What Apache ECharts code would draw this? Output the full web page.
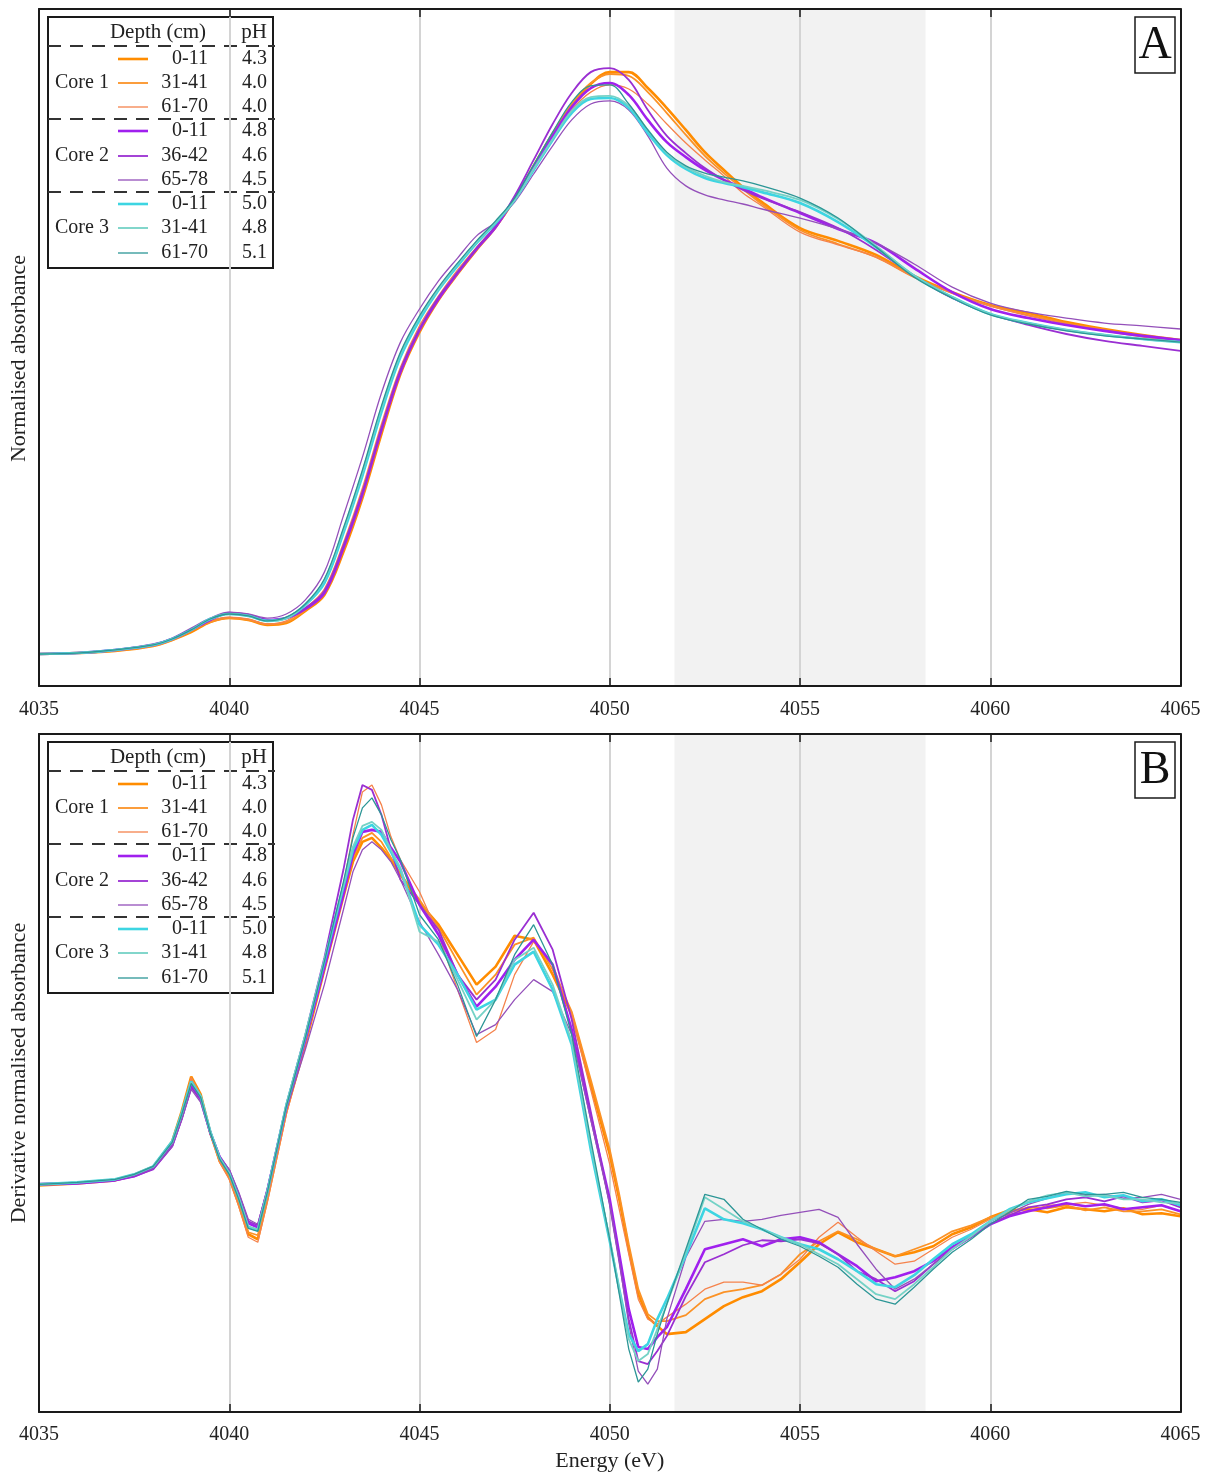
<!DOCTYPE html>
<html>
<head>
<meta charset="utf-8">
<script src="https://cdn.jsdelivr.net/npm/echarts/dist/echarts.min.js"></script>
<style>
html,body{margin:0;padding:0;background:#fff;}
#chart{width:1217px;height:1473px;}
</style>
</head>
<body>
<div id="chart"></div>
<script>
// ---------------- DATA ----------------
const energyA = [4035,4036,4037,4038,4038.5,4039,4039.5,4040,4040.5,4041,4041.5,4042,4042.5,4043,4043.5,4044,4044.5,4045,4045.5,4046,4046.5,4047,4047.5,4048,4048.5,4049,4049.5,4050,4050.5,4051,4051.5,4052,4052.5,4053,4053.5,4054,4055,4056,4057,4058,4059,4060,4061,4062,4063,4064,4065];

// Panel A: normalised absorbance
const absC1_0_11  = [0,0.003,0.010,0.026,0.045,0.070,0.102,0.115,0.109,0.093,0.099,0.138,0.189,0.326,0.499,0.704,0.896,1.030,1.133,1.216,1.293,1.366,1.456,1.562,1.664,1.754,1.824,1.862,1.862,1.811,1.747,1.677,1.606,1.549,1.494,1.446,1.363,1.322,1.277,1.210,1.158,1.117,1.091,1.062,1.040,1.021,1.005];
const absC1_31_41 = [0,0.003,0.010,0.026,0.045,0.074,0.102,0.115,0.109,0.096,0.102,0.141,0.195,0.339,0.512,0.717,0.902,1.037,1.136,1.219,1.296,1.366,1.456,1.562,1.667,1.760,1.827,1.856,1.850,1.798,1.731,1.661,1.594,1.539,1.488,1.440,1.357,1.312,1.270,1.206,1.155,1.114,1.085,1.059,1.037,1.018,1.002];
const absC1_61_70 = [0,0.003,0.010,0.026,0.045,0.074,0.106,0.118,0.112,0.096,0.106,0.147,0.208,0.355,0.531,0.736,0.918,1.050,1.146,1.229,1.302,1.370,1.456,1.555,1.654,1.741,1.798,1.821,1.808,1.760,1.696,1.635,1.581,1.530,1.475,1.434,1.350,1.309,1.270,1.206,1.155,1.114,1.082,1.056,1.034,1.014,0.998];
const absC2_0_11  = [0,0.003,0.013,0.029,0.048,0.077,0.109,0.131,0.125,0.109,0.115,0.144,0.195,0.339,0.512,0.717,0.902,1.037,1.136,1.219,1.296,1.366,1.459,1.558,1.658,1.750,1.811,1.827,1.789,1.709,1.638,1.590,1.549,1.517,1.491,1.462,1.411,1.360,1.315,1.235,1.158,1.104,1.075,1.053,1.034,1.018,1.005];
const absC2_36_42 = [0,0.003,0.013,0.029,0.048,0.077,0.109,0.131,0.125,0.109,0.115,0.147,0.202,0.346,0.518,0.723,0.909,1.040,1.142,1.222,1.299,1.370,1.466,1.581,1.696,1.795,1.862,1.875,1.837,1.741,1.658,1.603,1.555,1.517,1.485,1.459,1.414,1.363,1.293,1.210,1.139,1.088,1.053,1.024,1.002,0.986,0.970];
const absC2_65_78 = [0,0.003,0.013,0.032,0.051,0.083,0.115,0.134,0.128,0.115,0.128,0.173,0.262,0.442,0.630,0.835,0.998,1.104,1.194,1.267,1.338,1.382,1.446,1.536,1.626,1.709,1.760,1.770,1.741,1.658,1.555,1.498,1.469,1.453,1.440,1.424,1.395,1.360,1.315,1.248,1.174,1.123,1.094,1.075,1.059,1.050,1.040];
const absC3_0_11  = [0,0.003,0.013,0.029,0.048,0.077,0.112,0.128,0.122,0.106,0.115,0.157,0.227,0.387,0.570,0.774,0.950,1.069,1.165,1.242,1.315,1.379,1.453,1.549,1.645,1.731,1.776,1.779,1.747,1.667,1.597,1.552,1.523,1.507,1.494,1.478,1.443,1.382,1.302,1.210,1.142,1.088,1.059,1.037,1.021,1.008,0.998];
const absC3_31_41 = [0,0.003,0.013,0.029,0.048,0.077,0.112,0.128,0.122,0.106,0.115,0.160,0.237,0.397,0.582,0.787,0.960,1.078,1.168,1.248,1.318,1.382,1.453,1.552,1.648,1.738,1.782,1.786,1.754,1.677,1.603,1.558,1.530,1.510,1.498,1.485,1.453,1.392,1.306,1.210,1.142,1.088,1.059,1.037,1.021,1.008,0.998];
const absC3_61_70 = [0,0.003,0.013,0.029,0.048,0.077,0.112,0.128,0.122,0.106,0.118,0.160,0.240,0.403,0.589,0.794,0.966,1.082,1.174,1.251,1.322,1.386,1.459,1.565,1.670,1.766,1.818,1.821,1.760,1.677,1.606,1.562,1.539,1.526,1.514,1.498,1.459,1.395,1.302,1.206,1.139,1.085,1.056,1.034,1.018,1.008,0.998];

const energyB = [4035,4036,4037,4037.5,4038,4038.5,4038.75,4039,4039.25,4039.5,4039.75,4040,4040.25,4040.5,4040.75,4041,4041.5,4042,4042.5,4043,4043.25,4043.5,4043.75,4044,4044.25,4044.5,4045,4045.5,4046,4046.5,4047,4047.5,4048,4048.5,4049,4049.5,4050,4050.25,4050.5,4050.75,4051,4051.25,4051.5,4052,4052.5,4053,4053.5,4054,4054.5,4055,4055.5,4056,4056.5,4057,4057.5,4058,4058.5,4059,4059.5,4060,4060.5,4061,4061.5,4062,4062.5,4063,4063.5,4064,4064.5,4065];

// Panel B: derivative normalised absorbance
const derC1_0_11  = [-0.002,0,0.003,0.008,0.016,0.042,0.072,0.107,0.089,0.051,0.022,0.006,-0.021,-0.051,-0.056,-0.016,0.072,0.139,0.214,0.287,0.322,0.342,0.346,0.336,0.324,0.309,0.281,0.259,0.229,0.199,0.217,0.248,0.244,0.209,0.169,0.099,0.029,-0.016,-0.066,-0.111,-0.134,-0.143,-0.151,-0.149,-0.136,-0.123,-0.114,-0.108,-0.096,-0.079,-0.061,-0.049,-0.059,-0.066,-0.073,-0.069,-0.063,-0.051,-0.044,-0.034,-0.027,-0.026,-0.029,-0.024,-0.026,-0.028,-0.025,-0.031,-0.030,-0.033];
const derC1_31_41 = [-0.001,0.001,0.004,0.009,0.017,0.041,0.071,0.105,0.088,0.050,0.022,0.007,-0.019,-0.049,-0.052,-0.014,0.074,0.141,0.216,0.290,0.326,0.346,0.351,0.342,0.326,0.310,0.284,0.256,0.222,0.189,0.209,0.239,0.246,0.214,0.172,0.104,0.034,-0.011,-0.061,-0.106,-0.131,-0.138,-0.138,-0.132,-0.116,-0.109,-0.106,-0.102,-0.091,-0.071,-0.058,-0.048,-0.056,-0.066,-0.073,-0.066,-0.059,-0.048,-0.042,-0.034,-0.029,-0.024,-0.025,-0.022,-0.027,-0.024,-0.028,-0.028,-0.026,-0.031];
const derC1_61_70 = [-0.001,0.001,0.004,0.009,0.017,0.042,0.071,0.106,0.088,0.049,0.021,0.004,-0.023,-0.054,-0.059,-0.019,0.069,0.139,0.219,0.299,0.349,0.392,0.399,0.379,0.347,0.324,0.292,0.249,0.194,0.141,0.154,0.209,0.242,0.219,0.169,0.094,0.019,-0.026,-0.071,-0.116,-0.136,-0.141,-0.134,-0.121,-0.106,-0.099,-0.099,-0.102,-0.091,-0.076,-0.054,-0.039,-0.054,-0.068,-0.081,-0.078,-0.066,-0.054,-0.046,-0.036,-0.031,-0.028,-0.022,-0.021,-0.019,-0.022,-0.025,-0.026,-0.022,-0.028];
const derC2_0_11  = [-0.001,0,0.003,0.007,0.015,0.038,0.066,0.098,0.084,0.051,0.026,0.012,-0.012,-0.040,-0.044,-0.008,0.076,0.144,0.216,0.289,0.329,0.352,0.354,0.352,0.336,0.322,0.279,0.249,0.209,0.177,0.197,0.224,0.244,0.219,0.154,0.067,-0.016,-0.071,-0.126,-0.164,-0.166,-0.154,-0.144,-0.106,-0.066,-0.061,-0.056,-0.063,-0.056,-0.054,-0.059,-0.071,-0.083,-0.098,-0.094,-0.088,-0.078,-0.064,-0.053,-0.041,-0.033,-0.028,-0.024,-0.020,-0.023,-0.021,-0.026,-0.024,-0.022,-0.028];
const derC2_36_42 = [-0.001,0,0.003,0.007,0.014,0.037,0.064,0.096,0.084,0.052,0.027,0.013,-0.011,-0.038,-0.042,-0.006,0.079,0.149,0.226,0.314,0.364,0.399,0.394,0.369,0.334,0.304,0.279,0.254,0.209,0.184,0.204,0.244,0.271,0.234,0.164,0.072,-0.021,-0.078,-0.136,-0.178,-0.181,-0.168,-0.153,-0.113,-0.079,-0.071,-0.062,-0.057,-0.058,-0.056,-0.060,-0.071,-0.088,-0.096,-0.108,-0.098,-0.081,-0.066,-0.054,-0.041,-0.032,-0.024,-0.021,-0.016,-0.014,-0.018,-0.013,-0.019,-0.017,-0.024];
const derC2_65_78 = [0,0.001,0.004,0.008,0.015,0.037,0.064,0.094,0.081,0.049,0.026,0.014,-0.009,-0.036,-0.041,-0.006,0.074,0.134,0.199,0.274,0.312,0.334,0.342,0.334,0.322,0.304,0.262,0.229,0.194,0.149,0.159,0.184,0.204,0.192,0.149,0.064,-0.021,-0.078,-0.141,-0.188,-0.201,-0.186,-0.136,-0.074,-0.038,-0.036,-0.038,-0.036,-0.032,-0.029,-0.026,-0.034,-0.061,-0.086,-0.106,-0.096,-0.081,-0.066,-0.052,-0.038,-0.030,-0.021,-0.015,-0.009,-0.012,-0.011,-0.015,-0.014,-0.011,-0.016];
const derC3_0_11  = [-0.001,0.001,0.004,0.009,0.017,0.042,0.070,0.102,0.087,0.052,0.025,0.010,-0.015,-0.044,-0.047,-0.009,0.078,0.147,0.222,0.297,0.334,0.354,0.359,0.349,0.332,0.314,0.259,0.239,0.209,0.174,0.184,0.219,0.232,0.194,0.139,0.034,-0.058,-0.106,-0.151,-0.168,-0.161,-0.136,-0.116,-0.072,-0.025,-0.036,-0.040,-0.046,-0.054,-0.061,-0.066,-0.076,-0.088,-0.101,-0.104,-0.092,-0.076,-0.061,-0.051,-0.038,-0.026,-0.019,-0.015,-0.011,-0.009,-0.014,-0.012,-0.018,-0.016,-0.022];
const derC3_31_41 = [-0.001,0.001,0.004,0.009,0.017,0.041,0.069,0.101,0.087,0.052,0.025,0.010,-0.015,-0.043,-0.046,-0.008,0.079,0.149,0.224,0.299,0.337,0.358,0.362,0.354,0.334,0.316,0.252,0.242,0.204,0.164,0.184,0.224,0.236,0.199,0.142,0.039,-0.056,-0.106,-0.156,-0.178,-0.171,-0.146,-0.121,-0.069,-0.014,-0.026,-0.038,-0.046,-0.054,-0.061,-0.071,-0.081,-0.096,-0.111,-0.116,-0.101,-0.084,-0.066,-0.053,-0.038,-0.027,-0.018,-0.012,-0.009,-0.013,-0.012,-0.016,-0.016,-0.019,-0.020];
const derC3_61_70 = [-0.001,0.001,0.004,0.009,0.017,0.041,0.069,0.100,0.086,0.051,0.024,0.009,-0.016,-0.045,-0.048,-0.009,0.077,0.146,0.222,0.302,0.346,0.376,0.386,0.369,0.344,0.324,0.269,0.244,0.199,0.147,0.184,0.229,0.259,0.219,0.149,0.044,-0.056,-0.111,-0.166,-0.199,-0.186,-0.151,-0.121,-0.066,-0.011,-0.016,-0.036,-0.046,-0.056,-0.063,-0.073,-0.084,-0.101,-0.116,-0.121,-0.104,-0.086,-0.069,-0.056,-0.041,-0.029,-0.016,-0.013,-0.008,-0.011,-0.011,-0.009,-0.014,-0.016,-0.019];

const coreLabels  = ['Core 1','Core 2','Core 3'];
const depthLabels = ['0-11','31-41','61-70','0-11','36-42','65-78','0-11','31-41','61-70'];
const pHLabels    = ['4.3','4.0','4.0','4.8','4.6','4.5','5.0','4.8','5.1'];
const bandStart = 4051.7, bandEnd = 4058.3;

// ---------------- STYLE ----------------
const FONT = '"Liberation Serif","Times New Roman",serif';
const COLORS = ['#ff8c00','#fb9226','#f5834c','#a020ee','#9a2fd2','#9450ba','#3dd5e2','#74d2c6','#2c9696'];
const WIDTHS = [2.6,1.8,1.3,2.6,1.8,1.3,2.6,1.8,1.3];
const absSets = [absC1_0_11,absC1_31_41,absC1_61_70,absC2_0_11,absC2_36_42,absC2_65_78,absC3_0_11,absC3_31_41,absC3_61_70];
const derSets = [derC1_0_11,derC1_31_41,derC1_61_70,derC2_0_11,derC2_36_42,derC2_65_78,derC3_0_11,derC3_31_41,derC3_61_70];
const seriesNames = depthLabels.map((d,i)=>coreLabels[Math.floor(i/3)]+' '+d);

const chart = echarts.init(document.getElementById('chart'), null, {renderer:'canvas'});

const yRangeA = {min:-0.1024, max:2.064};
const yRangeB = {min:-0.229, max:0.450};

function xAxes(grid, withName, margin){
  return [
    { // bottom: border, ticks, labels
      gridIndex:grid, type:'value', min:4035, max:4065, interval:5, position:'bottom', z:5,
      axisLine:{show:true, onZero:false, lineStyle:{color:'#1a1a1a', width:2}},
      axisTick:{show:true, inside:true, length:8, lineStyle:{color:'#1a1a1a', width:1.5}},
      axisLabel:{show:true, fontFamily:FONT, fontSize:20, color:'#222', margin:margin, formatter:(v)=>String(v)},
      splitLine:{show:false},
      name: withName ? 'Energy (eV)' : '', nameLocation:'middle', nameGap:38,
      nameTextStyle:{fontFamily:FONT, fontSize:22, color:'#222'}
    },
    { // top: border, ticks, gridlines
      gridIndex:grid, type:'value', min:4035, max:4065, interval:5, position:'top', z:2,
      axisLine:{show:true, onZero:false, lineStyle:{color:'#1a1a1a', width:2}},
      axisTick:{show:true, inside:true, length:8, lineStyle:{color:'#1a1a1a', width:1.5}},
      axisLabel:{show:false},
      splitLine:{show:true, lineStyle:{color:'#d4d4d4', width:2}}
    }
  ];
}
function yAxes(grid, range, name, padRight){
  return [
    { gridIndex:grid, type:'value', min:range.min, max:range.max, position:'left', z:5,
      axisLine:{show:true, onZero:false, lineStyle:{color:'#1a1a1a', width:2}},
      axisTick:{show:false}, axisLabel:{show:false}, splitLine:{show:false},
      name:name, nameLocation:'middle', nameGap:9, nameRotate:90,
      nameTextStyle:{fontFamily:FONT, fontSize:22, color:'#222', padding:[0,padRight,0,0]} },
    { gridIndex:grid, type:'value', min:range.min, max:range.max, position:'right', z:5,
      axisLine:{show:true, onZero:false, lineStyle:{color:'#1a1a1a', width:2}},
      axisTick:{show:false}, axisLabel:{show:false}, splitLine:{show:false} }
  ];
}

const series = [];
// shaded bands (under gridlines and curves)
[0,1].forEach(p=>{
  series.push({
    type:'line', xAxisIndex:p*2, yAxisIndex:p*2, data:[], z:1, silent:true,
    markArea:{silent:true, itemStyle:{color:'#f2f2f2'}, data:[[{xAxis:bandStart},{xAxis:bandEnd}]]}
  });
});
absSets.forEach((arr,i)=>{
  series.push({
    name:seriesNames[i], type:'line', xAxisIndex:0, yAxisIndex:0, z:3,
    data: energyA.map((e,k)=>[e, arr[k]]), showSymbol:false, smooth:0.35,
    lineStyle:{color:COLORS[i], width:WIDTHS[i]}, itemStyle:{color:COLORS[i]}
  });
});
derSets.forEach((arr,i)=>{
  series.push({
    name:seriesNames[i], type:'line', xAxisIndex:2, yAxisIndex:2, z:3,
    data: energyB.map((e,k)=>[e, arr[k]]), showSymbol:false, smooth:false,
    lineStyle:{color:COLORS[i], width:WIDTHS[i]}, itemStyle:{color:COLORS[i]}
  });
});

// ---------------- custom legend tables ----------------
function legendGroup(top){
  const ch = [];
  ch.push({type:'rect', shape:{x:0,y:0,width:225,height:251}, style:{fill:'#fff', stroke:'#1a1a1a', lineWidth:2}});
  ch.push({type:'text', x:110, y:15, style:{text:'Depth (cm)', fontFamily:FONT, fontSize:21, fill:'#222', align:'center', verticalAlign:'middle'}});
  ch.push({type:'text', x:206, y:15, style:{text:'pH', fontFamily:FONT, fontSize:21, fill:'#222', align:'center', verticalAlign:'middle'}});
  [29,102,175].forEach(y=>{
    ch.push({type:'line', shape:{x1:0,y1:y,x2:227,y2:y}, style:{stroke:'#333', lineWidth:2, lineDash:[13,9]}});
  });
  const rowY = [42,66,90,114,139,163,187,211,236];
  depthLabels.forEach((d,i)=>{
    const y = rowY[i];
    ch.push({type:'line', shape:{x1:70,y1:y,x2:100,y2:y}, style:{stroke:COLORS[i], lineWidth:WIDTHS[i]}});
    ch.push({type:'text', x:160, y:y, style:{text:d, fontFamily:FONT, fontSize:20, fill:'#222', align:'right', verticalAlign:'middle'}});
    ch.push({type:'text', x:219, y:y, style:{text:pHLabels[i], fontFamily:FONT, fontSize:20, fill:'#222', align:'right', verticalAlign:'middle'}});
  });
  coreLabels.forEach((c,j)=>{
    ch.push({type:'text', x:7, y:rowY[j*3+1], style:{text:c, fontFamily:FONT, fontSize:20, fill:'#222', align:'left', verticalAlign:'middle'}});
  });
  return {type:'group', x:48, y:top, z:100, children:ch};
}
function panelTag(letter, top){
  return {type:'group', x:1135, y:top, z:100, children:[
    {type:'rect', shape:{x:0,y:0,width:40,height:56}, style:{fill:'#fff', stroke:'#1a1a1a', lineWidth:1.5}},
    {type:'text', x:20, y:29, style:{text:letter, fontFamily:FONT, fontSize:46, fill:'#111', align:'center', verticalAlign:'middle'}}
  ]};
}

const option = {
  animation:false,
  backgroundColor:'#fff',
  grid:[
    {left:37.5, width:1143, top:9, height:677, containLabel:false},
    {left:37.5, width:1143, top:734, height:679, containLabel:false}
  ],
  xAxis:[...xAxes(0,false,14), ...xAxes(1,true,13)],
  yAxis:[...yAxes(0, yRangeA, 'Normalised absorbance', 22), ...yAxes(1, yRangeB, 'Derivative normalised absorbance', 0)],
  series: series,
  graphic:[legendGroup(17), legendGroup(742), panelTag('A',17), panelTag('B',742)]
};
chart.setOption(option);
</script>
</body>
</html>
